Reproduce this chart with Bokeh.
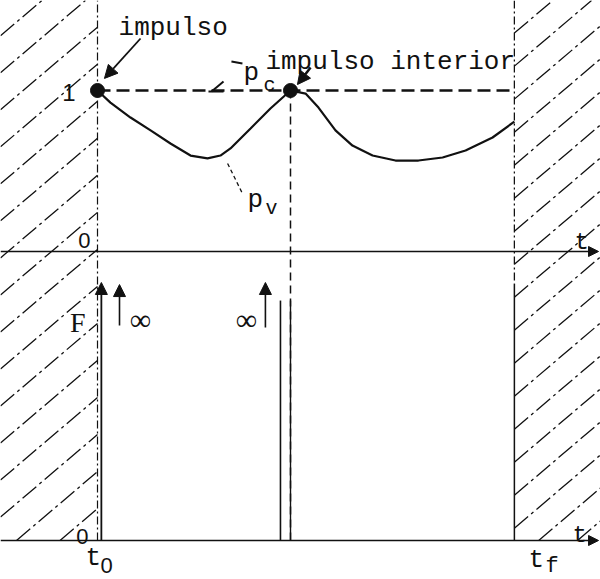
from bokeh.plotting import figure
from bokeh.models import Range1d, Arrow, NormalHead
from bokeh.core.properties import value
from bokeh.embed import file_html
from bokeh.resources import INLINE

# --- instants on the time axis -------------------------------------------
T0 = 0.0          # initial time t0
T_IMP = 1.0       # interior impulse
TF = 2.16         # final time tf

# --- p_c : constant level reached at the impulses ------------------------
PC_LEVEL = 1.0

# --- p_v : variable curve, first arc (t0 -> interior impulse) ------------
PV1_T = [0.000, 0.067, 0.171, 0.275, 0.378, 0.482, 0.570, 0.637, 0.689, 0.793, 0.896, 1.000]
PV1_P = [1.000, 0.925, 0.832, 0.752, 0.671, 0.596, 0.578, 0.596, 0.640, 0.764, 0.888, 1.000]

# --- p_v : second arc (interior impulse -> tf) ---------------------------
PV2_T = [1.000, 1.078, 1.145, 1.233, 1.321, 1.425, 1.544, 1.663, 1.788, 1.907, 2.047, 2.160]
PV2_P = [1.000, 0.981, 0.894, 0.752, 0.658, 0.596, 0.565, 0.565, 0.584, 0.627, 0.708, 0.807]

# --- impulse marks ---------------------------------------------------------
IMPULSE_T = [T0, T_IMP]
IMPULSE_P = [PC_LEVEL, PC_LEVEL]

INK = "#111111"
MONO = "Liberation Mono"
SERIF = "Liberation Serif"
PLAIN = "Liberation Sans"

# view ranges (upper panel in p units, lower panel in F units)
X_LO, X_HI = -0.5026, 2.6062
P_LO, P_HI = -2.0373, 1.5590
F_LO, F_HI = -0.1512, 2.0930
P_AXIS_F = -1.795          # lower t axis expressed in p units

p = figure(width=600, height=579, output_backend="svg", toolbar_location=None,
           x_range=Range1d(X_LO, X_HI), y_range=Range1d(P_LO, P_HI),
           x_axis_location=None, y_axis_location=None,
           min_border=0, outline_line_color=None, background_fill_color="white",
           border_fill_color="white")
p.extra_y_ranges = {"F": Range1d(F_LO, F_HI)}
p.grid.visible = False


def hatch(t_lo, t_hi, p_lo, p_hi, slope, spacing, t_ref, p_ref):
    """Diagonal hatch segments clipped to a rectangle."""
    x0, y0, x1, y1 = [], [], [], []
    c_ref = p_ref - slope * t_ref
    for k in range(-40, 41):
        c = c_ref + k * spacing
        ta = max(t_lo, (p_lo - c) / slope)
        tb = min(t_hi, (p_hi - c) / slope)
        if ta < tb:
            x0.append(ta); y0.append(c + slope * ta)
            x1.append(tb); y1.append(c + slope * tb)
    p.segment(x0, y0, x1, y1, line_color=INK, line_width=1.3, line_dash="18 4 3 4")


# forbidden regions before t0 and after tf
hatch(X_LO, T0, P_AXIS_F, P_HI, 1.02, 0.23, T0, -0.447)
hatch(TF, X_HI, P_AXIS_F, P_HI, 1.02, 0.205, 2.14, -0.509)

# vertical reference lines
p.line([T0, T0], [P_AXIS_F, P_HI], line_color=INK, line_width=1.2, line_dash="8 3 2 3")
p.line([T_IMP, T_IMP], [PC_LEVEL, P_AXIS_F], line_color=INK, line_width=1.5, line_dash="8 5")
p.line([TF, TF], [P_HI, -0.2], line_color=INK, line_width=1.3, line_dash="8 3 2 3")
p.line([TF, TF], [-0.2, P_AXIS_F], line_color=INK, line_width=1.5)

# time axes with arrowheads
for rng in ("default", "F"):
    p.add_layout(Arrow(end=NormalHead(size=10, fill_color=INK, line_color=INK),
                       x_start=X_LO, y_start=0, x_end=2.596, y_end=0,
                       line_color=INK, line_width=1.6, y_range_name=rng))

# p_c dashed level and p_v curve
p.line([T0, TF], [PC_LEVEL, PC_LEVEL], line_color=INK, line_width=2.4, line_dash="13 6")
p.line(PV1_T, PV1_P, line_color=INK, line_width=2.2)
p.line(PV2_T, PV2_P, line_color=INK, line_width=2.2)
p.scatter(IMPULSE_T, IMPULSE_P, size=14, color=INK)

# impulses of F (lower panel)
head = dict(size=12, fill_color=INK, line_color=INK)
p.add_layout(Arrow(end=NormalHead(**head), x_start=T0 + 0.02, y_start=0, x_end=T0 + 0.02,
                   y_end=1.0, line_color=INK, line_width=1.8, y_range_name="F"))
p.line([T_IMP - 0.052, T_IMP - 0.052], [0, 0.93], line_color=INK, line_width=1.6, y_range_name="F")
p.line([T_IMP, T_IMP], [0, 0.93], line_color=INK, line_width=1.4, y_range_name="F")
p.add_layout(Arrow(end=NormalHead(**head), x_start=T0 + 0.114, y_start=0.833, x_end=T0 + 0.114,
                   y_end=0.992, line_color=INK, line_width=1.6, y_range_name="F"))
p.add_layout(Arrow(end=NormalHead(**head), x_start=T_IMP - 0.130, y_start=0.826, x_end=T_IMP - 0.130,
                   y_end=1.0, line_color=INK, line_width=1.6, y_range_name="F"))

# pointer arrows to the impulses
p.add_layout(Arrow(end=NormalHead(size=13, fill_color=INK, line_color=INK),
                   x_start=0.223, y_start=1.323, x_end=0.036, y_end=1.075,
                   line_color=INK, line_width=1.8))
p.add_layout(Arrow(end=NormalHead(size=13, fill_color=INK, line_color=INK),
                   x_start=1.104, y_start=1.143, x_end=1.036, y_end=1.037,
                   line_color=INK, line_width=2.5))

# leaders for p_c and p_v
p.segment([0.694, 0.591, 0.575], [1.180, 0.994, 0.994], [0.751, 0.653, 0.653], [1.168, 1.056, 0.994],
          line_color=INK, line_width=2)
p.segment([0.674], [0.547], [0.751], [0.360], line_color=INK, line_width=1.3, line_dash="4 3")


def label(x, y, s, size, font=MONO, align="left", rng="default"):
    p.text([x], [y], text=[s], text_font=value(font), text_font_size=size,
           text_align=align, text_baseline="alphabetic", text_color=INK, y_range_name=rng)


label(0.109, 1.391, "impulso", "26px")
label(0.870, 1.174, "impulso interior", "26px")
label(0.756, 1.106, "p", "26px")
label(0.860, 1.031, "c", "20px")
label(0.777, 0.317, "p", "26px")
label(0.870, 0.267, "v", "20px")
label(-0.114, 0.988, "1", "24px", font=PLAIN, align="right")
label(-0.036, 0.068, "0", "22px", font=PLAIN, align="right")
label(2.472, 0.056, "t", "24px")

label(-0.062, 0.845, "F", "28px", font=SERIF, align="right", rng="F")
label(0.223, 0.888 - 0.03, "\u221e", "30px", font=SERIF, align="center", rng="F")
label(0.772, 0.888 - 0.03, "\u221e", "30px", font=SERIF, align="center", rng="F")
label(-0.047, 0.0155, "0", "22px", font=PLAIN, align="right", rng="F")
label(2.461, 0.019, "t", "24px", rng="F")
label(-0.062, -0.066, "t", "26px", rng="F")
label(0.0155, -0.097, "0", "22px", font=PLAIN, rng="F")
label(2.233, -0.074, "t", "26px", rng="F")
label(2.321, -0.101, "f", "22px", rng="F")

open("out.html", "w").write(file_html(p, INLINE))
